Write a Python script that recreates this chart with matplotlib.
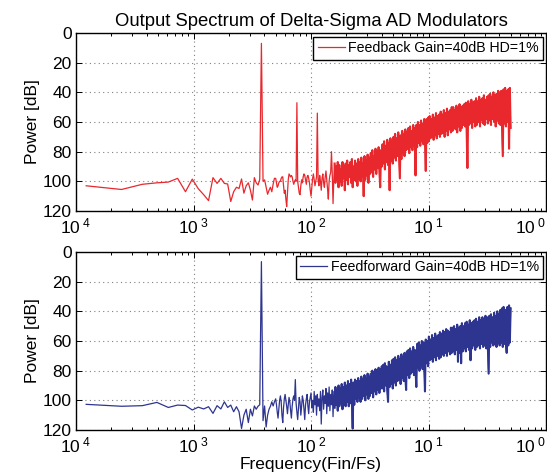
import numpy as np
import matplotlib
matplotlib.use('Agg')
import matplotlib.pyplot as plt
from matplotlib.ticker import FixedLocator, LogLocator, NullFormatter

plt.rcParams['font.family'] = ['Liberation Sans', 'DejaVu Sans']
plt.rcParams['mathtext.fontset'] = 'custom'
plt.rcParams['mathtext.rm'] = 'Liberation Sans'
plt.rcParams['mathtext.it'] = 'Liberation Sans:italic'

# ---------------- data ----------------
N_FFT = 8192
low_bins = [1, 2, 3, 4, 5, 6, 7, 8, 9, 10, 11, 12, 13, 14, 15, 16, 17, 18, 19, 20,
            21, 22, 23, 24, 25, 26, 27, 28, 29, 30, 31, 32, 33, 34, 35, 36, 37, 38, 39, 40]
dense_first_bin = 41
dense_last_bin = 4096
band_start = 75   # index in the dense lists where the noise becomes a solid band

fb_low = [103, 105.5, 102, 101, 100.5, 98, 107, 98.5, 105, 109,
          113, 97.5, 101.4, 98, 101.4, 101.8, 113.6, 107, 104, 104.8,
          98.4, 108, 103, 101, 106, 112.6, 97.5, 101, 102.5, 98.7,
          7, 100, 99, 104, 108.7, 106, 104, 107, 102, 98]

fb_dense = [
    98, 101, 104, 103, 101, 100, 100, 98, 97, 97, 103, 108, 106, 112, 117, 108, 99, 95, 96, 97,
    96, 97, 100, 102, 100, 99, 100, 47, 100, 104, 108, 109, 103, 99, 101, 97, 95, 96, 99, 102,
    97, 96, 98, 101, 106, 110, 104, 98, 95, 99, 103, 100, 97, 54, 99, 103, 96, 100, 106, 98,
    95, 101, 104, 97, 93, 99, 105, 112, 100, 96, 94, 80, 95, 115, 98,
    88, 101, 90, 99, 87, 104, 89, 100, 92, 103, 87, 98, 90, 106, 88,
    99, 86, 102, 89, 97, 87, 101, 85, 104, 90, 99, 86, 100, 88, 103,
    85, 98, 87, 100, 84, 97, 88, 110, 83, 99, 86, 96, 82, 101, 84,
    95, 81, 94, 79, 97, 83, 92, 78, 95, 80, 91, 77, 93, 104, 79,
    90, 75, 88, 73, 92, 76, 87, 72, 89, 74, 106, 71, 86, 73, 88,
    70, 84, 68, 86, 71, 83, 67, 82, 98, 69, 85, 66, 81, 68, 83,
    65, 79, 67, 78, 64, 81, 63, 77, 66, 79, 62, 76, 64, 96, 62,
    77, 60, 74, 62, 76, 59, 73, 61, 75, 58, 72, 93, 58, 74, 57,
    73, 56, 71, 58, 70, 55, 72, 57, 69, 54, 71, 56, 68, 55, 70,
    53, 68, 55, 67, 52, 70, 54, 66, 51, 69, 53, 65, 52, 67, 50,
    66, 50, 64, 52, 65, 49, 67, 51, 63, 48, 66, 50, 64, 49, 62,
    48, 63, 47, 65, 91, 46, 62, 48, 61, 45, 64, 47, 60, 46, 63,
    44, 62, 46, 60, 43, 63, 45, 59, 44, 61, 42, 62, 45, 58, 43,
    61, 42, 59, 41, 62, 43, 58, 40, 60, 42, 63, 41, 59, 39, 61,
    40, 62, 39, 60, 83, 38, 61, 37, 63, 39, 60, 38, 78, 37, 64,
]

ff_low = [102.7, 104, 103.6, 101.4, 104.8, 103.2, 103.5, 106.5, 104.6, 105.8,
          104.3, 108.8, 103.6, 105.8, 101, 104.8, 103.2, 107.7, 104.3, 107.7,
          119, 110, 106, 115, 106, 110.5, 103.8, 106, 104, 103,
          6.5, 113.7, 103.8, 118, 110, 106, 104, 101, 103.8, 101]

ff_dense = [
    99, 103, 108, 112, 106, 100, 97, 101, 110, 115, 105, 99, 96, 100, 104, 109, 103, 98, 101, 107,
    112, 104, 99, 97, 100, 86, 102, 108, 113, 105, 98, 101, 110, 104, 97, 100, 106, 113, 103, 99,
    96, 104, 109, 101, 98,
    95, 105, 100, 108, 94, 103, 97, 110, 96, 104, 99, 107, 94, 116, 98,
    93, 106, 97, 102, 92, 109, 95, 104, 91, 107, 96, 103, 93, 111, 94,
    105, 91, 103, 93, 107, 90, 104, 92, 102, 89, 106, 91, 103, 88, 104,
    90, 101, 87, 104, 89, 102, 86, 100, 119, 88, 103, 86, 99, 87, 101,
    85, 98, 87, 101, 84, 99, 86, 97, 83, 100, 85, 96, 82, 99, 84,
    97, 82, 95, 80, 98, 81, 94, 79, 96, 80, 93, 78, 95, 79, 92,
    77, 92, 76, 94, 75, 90, 77, 93, 101, 74, 91, 76, 89, 73, 92,
    72, 88, 71, 90, 73, 87, 70, 86, 72, 89, 69, 85, 71, 87, 68,
    84, 93, 67, 83, 66, 85, 65, 82, 67, 81, 64, 83, 66, 80, 91,
    62, 78, 61, 80, 63, 77, 60, 79, 61, 76, 94, 59, 75, 60, 77,
    57, 73, 59, 72, 56, 74, 58, 71, 55, 73, 57, 70, 56, 72, 54,
    71, 55, 69, 53, 70, 54, 68, 52, 70, 53, 67, 54, 69, 51, 68,
    51, 67, 50, 69, 52, 66, 49, 74, 51, 68, 50, 75, 48, 67, 50,
    65, 48, 67, 47, 64, 49, 66, 46, 73, 48, 65, 47, 63, 46, 66,
    45, 64, 47, 63, 44, 65, 46, 62, 44, 64, 45, 63, 43, 65, 44,
    62, 82, 43, 64, 42, 61, 44, 63, 41, 62, 43, 64, 40, 61, 42,
    63, 39, 61, 38, 64, 37, 62, 39, 60, 68, 37, 63, 36, 61, 38,
]

title_text = 'Output Spectrum of Delta-Sigma AD Modulators'
fb_label = 'Feedback Gain=40dB HD=1%'
ff_label = 'Feedforward Gain=40dB HD=1%'
x_label = 'Frequency(Fin/Fs)'
y_label = 'Power [dB]'
xticks = [1e-4, 1e-3, 1e-2, 1e-1, 1e0]
xtick_labels = [r'$\mathregular{10^{\ 4}}$', r'$\mathregular{10^{\ 3}}$',
                r'$\mathregular{10^{\ 2}}$', r'$\mathregular{10^{\ 1}}$',
                r'$\mathregular{10^{\ 0}}$']
yticks = [0, 20, 40, 60, 80, 100, 120]

RED = '#e8282d'
BLUE = '#2e3591'

# ---------------- figure ----------------
W, H = 547, 476
fig = plt.figure(figsize=(W / 100, H / 100), dpi=100)
ax1 = fig.add_axes([76 / W, 1 - 211 / H, 470 / W, 178 / H])
ax2 = fig.add_axes([76 / W, 1 - 430 / H, 470 / W, 178 / H])

f_low = np.array(low_bins) / N_FFT
f_dense = np.geomspace(dense_first_bin, dense_last_bin, len(fb_dense)) / N_FFT
f_all = np.concatenate([f_low, f_dense])

for ax, low, dense, col, lab in ((ax1, fb_low, fb_dense, RED, fb_label),
                                 (ax2, ff_low, ff_dense, BLUE, ff_label)):
    ax.plot(f_all, np.concatenate([low, dense]), color=col, lw=0.9, label=lab)
    ax.plot(f_dense[band_start:], dense[band_start:], color=col, lw=1.5)

for ax in (ax1, ax2):
    ax.set_xscale('log')
    ax.set_xlim(1e-4, 1)
    ax.set_ylim(120, 0)
    ax.xaxis.set_major_locator(FixedLocator(xticks))
    ax.set_xticklabels(xtick_labels)
    ax.get_xticklabels()[-1].set_horizontalalignment('right')
    ax.xaxis.set_minor_locator(LogLocator(base=10, subs=np.arange(2, 10), numticks=20))
    ax.xaxis.set_minor_formatter(NullFormatter())
    ax.set_yticks(yticks)
    ax.tick_params(which='both', direction='in', top=True, right=True, labelsize=12.5, width=0.7)
    ax.tick_params(which='major', length=4)
    ax.tick_params(which='minor', length=2.5)
    ax.tick_params(axis='x', pad=4)
    ax.tick_params(axis='y', pad=3)
    ax.grid(True, which='major', linestyle=(0, (1, 3)), color='#808080', lw=0.8)
    for s in ax.spines.values():
        s.set_linewidth(1.0)
    ax.set_ylabel(y_label, fontsize=12.5)
    ax.yaxis.set_label_coords(-0.077, 0.5)
    leg = ax.legend(loc='upper right', bbox_to_anchor=(1 - 3 / 470, 1 - 4 / 178),
                    borderaxespad=0, fontsize=10.2, fancybox=False, framealpha=1,
                    edgecolor='black', handlelength=1.9, handletextpad=0.25,
                    borderpad=0.3)
    leg.get_frame().set_linewidth(1.0)

ax1.set_title(title_text, fontsize=13.3, pad=5)
ax2.set_xlabel(x_label, fontsize=12.5)
ax2.xaxis.set_label_coords(0.5, -0.15)

fig.savefig('out.png', dpi=100)
